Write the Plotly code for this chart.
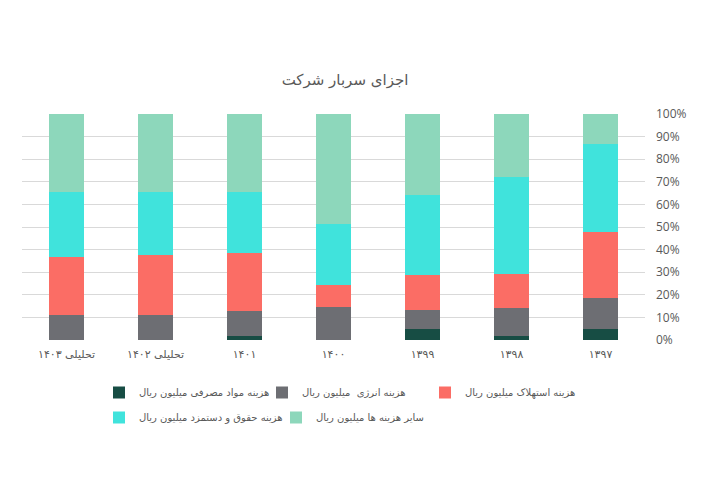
import plotly.graph_objects as go

categories = ["۱۳۹۷", "۱۳۹۸", "۱۳۹۹", "۱۴۰۰", "۱۴۰۱", "تحلیلی ۱۴۰۲", "تحلیلی ۱۴۰۳"]

materials = [4.7, 1.6, 5.0, 0.0, 1.6, 0.0, 0.0]
energy = [14.0, 12.4, 8.2, 14.7, 11.1, 10.9, 10.9]
depreciation = [29.2, 15.0, 15.5, 9.6, 25.7, 26.5, 25.9]
salaries = [39.0, 43.3, 35.6, 27.2, 27.2, 28.2, 28.8]
others = [13.1, 27.7, 35.7, 48.5, 34.4, 34.4, 34.4]

series_names = [
    "هزینه مواد مصرفی میلیون ریال",
    "هزینه انرژی  میلیون ریال",
    "هزینه استهلاک میلیون ریال",
    "هزینه حقوق و دستمزد میلیون ریال",
    "سایر هزینه ها میلیون ریال",
]
series_values = [materials, energy, depreciation, salaries, others]
colors = ["#174d44", "#6d6e73", "#fb6d65", "#40e3dc", "#8dd7bb"]
legend_ids = ["legend", "legend", "legend", "legend2", "legend2"]

fig = go.Figure()
for name, vals, col, lg in zip(series_names, series_values, colors, legend_ids):
    fig.add_trace(go.Bar(
        x=categories, y=vals, name=name, marker=dict(color=col, line=dict(width=0)),
        legend=lg,
    ))

fa_font = "DejaVu Sans, Noto Sans, sans-serif"

fig.update_layout(
    width=720, height=480,
    barmode="stack", barnorm="percent", bargap=0.6,
    plot_bgcolor="white", paper_bgcolor="white",
    margin=dict(l=22, r=75, t=114, b=140),
    title=dict(text="اجزای سربار شرکت", x=345/720, xanchor="center", y=1-80/480, yanchor="middle",
               font=dict(family=fa_font, size=15, color="#595959")),
    xaxis=dict(autorange="reversed", showgrid=False, showline=False, ticks="",
               ticklabelstandoff=6,
               tickfont=dict(family=fa_font, size=11, color="#595959")),
    yaxis=dict(side="right", range=[0, 100], dtick=10, ticksuffix="%",
               gridcolor="#d9d9d9", gridwidth=1, zeroline=False, showline=False,
               ticklabelstandoff=10,
               tickfont=dict(family="Open Sans, sans-serif", size=12, color="#595959")),
    legend=dict(orientation="h", traceorder="normal", x=(99-22)/623, xanchor="left",
                y=(340-378)/226, yanchor="top",
                entrywidth=118, font=dict(family=fa_font, size=10, color="#595959"),
                bgcolor="rgba(0,0,0,0)"),
    legend2=dict(orientation="h", traceorder="normal", x=(99-22)/623, xanchor="left",
                 y=(340-403)/226, yanchor="top",
                 entrywidth=132, font=dict(family=fa_font, size=10, color="#595959"),
                 bgcolor="rgba(0,0,0,0)"),
)

fig.write_html("out.html")
